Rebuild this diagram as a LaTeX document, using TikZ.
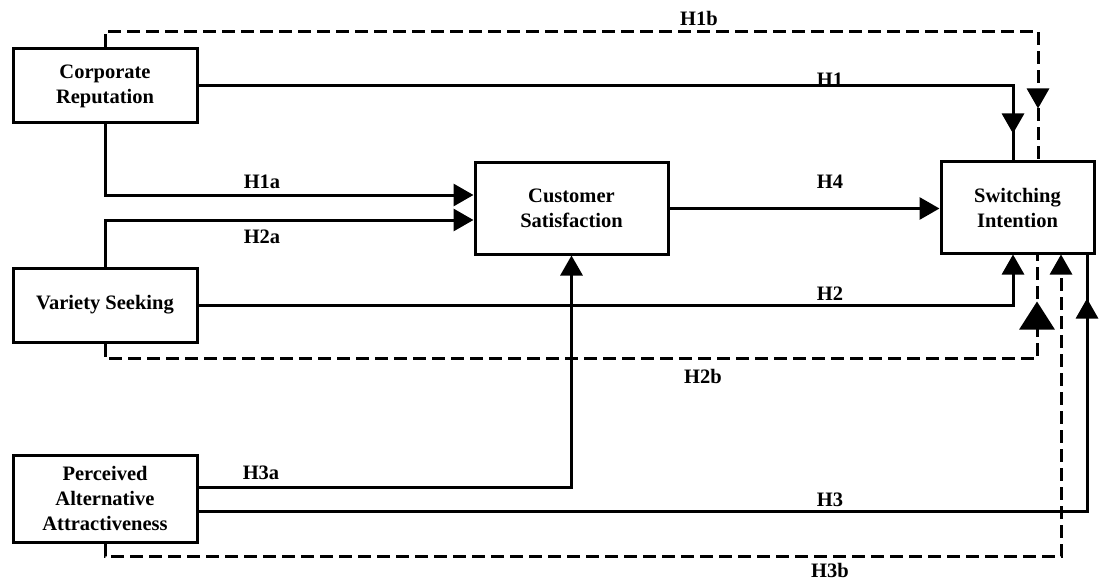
\documentclass[tikz,border=0pt]{standalone}
\usepackage{fontspec}
\setmainfont{Liberation Serif}
\usetikzlibrary{arrows.meta,decorations.markings}
\begin{document}
\begin{tikzpicture}[x=1pt,y=-1pt,
  box/.style={draw,line width=3pt,align=center,inner sep=2pt,
    font=\fontsize{20.5}{25}\selectfont\bfseries},
  lbl/.style={font=\fontsize{20.5}{24}\selectfont\bfseries,inner sep=0pt},
  conn/.style={line width=3pt},
  dsh/.style={conn,dash pattern=on 13pt off 6pt},
  tipA/.tip={Triangle[length=20pt,width=22pt]},
  tipB/.tip={Triangle[length=28pt,width=35pt]},
  midA/.style={postaction={decorate},decoration={markings,
    mark=at position #1 with {\arrow{tipA}}}},
  midB/.style={postaction={decorate},decoration={markings,
    mark=at position #1 with {\arrow{tipB}}}}]
\useasboundingbox (0,0) rectangle (1102,580);

% constructs
\node[box,minimum width=184pt,minimum height=74pt] (cr) at (105,86) {Corporate\\Reputation};
\node[box,minimum width=184pt,minimum height=74pt] (vs) at (105,305) {Variety Seeking};
\node[box,minimum width=184pt,minimum height=87pt] (paa) at (105,498.5) {Perceived\\Alternative\\Attractiveness};
\node[box,minimum width=193pt,minimum height=91pt] (cs) at (571.5,208.5) {Customer\\Satisfaction};
\node[box,minimum width=153pt,minimum height=91pt] (si) at (1017.5,207.5) {Switching\\Intention};

% direct paths
\draw[conn,midA=-27pt] (cr.east) -| ([xshift=-4.5pt]si.north);
\draw[conn,-{tipA}] (vs.east) -| ([xshift=-4.5pt]si.south);
\draw[conn,midA=-44pt] ([yshift=-12.5pt]paa.east) -| ([xshift=69.5pt]si.south);
\draw[conn,-{tipA}] (cs.east) -- (cs.east -| si.west);

% paths through satisfaction
\draw[conn,-{tipA}] (cr.south) |- ([yshift=13.5pt]cs.west);
\draw[conn,-{tipA}] (vs.north) |- ([yshift=-11.5pt]cs.west);
\draw[conn,-{tipA}] ([yshift=11.5pt]paa.east) -| (cs.south);

% moderated (dashed) paths
\draw[dsh,midA=-52pt] (cr.north) -- ++(0,-16) -| ([xshift=20.5pt]si.north);
\draw[dsh,midB=-47pt] (vs.south) -- ++(0,15) -| ([xshift=19.5pt]si.south);
\draw[dsh,-{tipA}] (paa.south) -- ++(0,13) -| ([xshift=43.5pt]si.south);

% hypothesis labels
\node[lbl] (h1b) at (699,18) {H1b};
\node[lbl] (h1) at (830,80) {H1};
\node[lbl] (h1a) at (262,182) {H1a};
\node[lbl] (h2a) at (262,237) {H2a};
\node[lbl] (h4) at (830,182) {H4};
\node[lbl] (h2) at (830,294) {H2};
\node[lbl] (h2b) at (703,376) {H2b};
\node[lbl] (h3a) at (261,473) {H3a};
\node[lbl] (h3) at (830,500) {H3};
\node[lbl] (h3b) at (830,570) {H3b};
\end{tikzpicture}
\end{document}
